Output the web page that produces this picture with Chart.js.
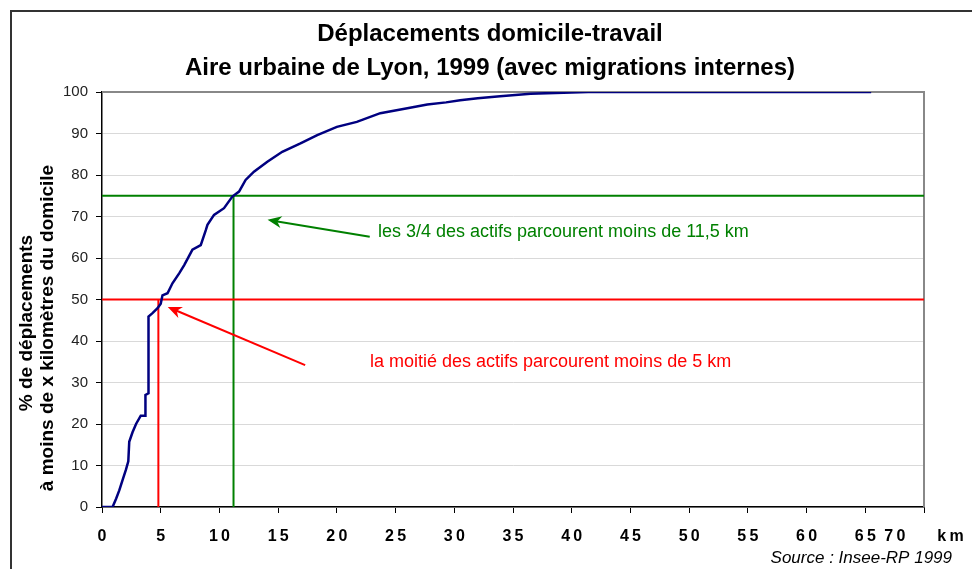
<!DOCTYPE html>
<html lang="fr">
<head>
  <meta charset="UTF-8">
  <title>Déplacements domicile-travail - Lyon 1999</title>
  <style>
    html, body {
      margin: 0;
      padding: 0;
      background: #ffffff;
      overflow: hidden;
    }
    .wrap {
      position: relative;
      width: 972px;
      height: 569px;
    }
  </style>
</head>
<body>
  <div class="wrap">
    <canvas id="cumChart" width="972" height="569"></canvas>
  </div>

  <script src="https://cdn.jsdelivr.net/npm/chart.js"></script>
  <script>
    // Cumulative share of trips (%) by distance from home (km)
    const distKm = [0, 0.9, 1.2, 1.47, 1.75, 2.04, 2.24, 2.32, 2.6, 2.9, 3.3, 3.7, 3.7, 3.96, 3.96,
      4.3, 4.73, 5.0, 5.15, 5.58, 6.0, 6.57, 7.0, 7.42, 7.7, 8.41, 8.84, 8.98, 9.54, 10.39, 11.1,
      11.67, 12.23, 12.94, 14.08, 15.35, 16.9, 18.33, 20.0, 21.7, 23.7, 26.0, 27.7, 29.3, 30.5,
      32.0, 33.9, 36.5, 41.4, 65.5];
    const pctCum = [0, 0, 2, 4, 6.5, 9, 11, 15.7, 18, 20, 22, 22, 27, 27.4, 45.9,
      46.7, 47.9, 49, 51, 51.5, 53.9, 56.3, 58.3, 60.5, 62, 63.1, 66.7, 68, 70.4, 72, 74.8,
      76, 78.8, 80.8, 83.2, 85.6, 87.6, 89.6, 91.6, 92.8, 94.9, 96.1, 97.0, 97.5, 98.0,
      98.5, 99.0, 99.6, 100, 100];

    // reference lines: median and 3rd quartile
    const medianKm = 4.8, medianPct = 50;
    const q3Km = 11.2, q3Pct = 75;
    const xMax = 70;

    const titleLines = ['Déplacements domicile-travail', 'Aire urbaine de Lyon, 1999 (avec migrations internes)'];
    const yTitleLines = ['% de déplacements', 'à moins de x kilomètres du domicile'];
    const sourceText = 'Source : Insee-RP 1999';
    const noteQ3 = 'les 3/4 des actifs parcourent moins de 11,5 km';
    const noteMedian = 'la moitié des actifs parcourent moins de 5 km';

    // arrows: [fromKm, fromPct, toKm, toPct]
    const arrowQ3 = [22.8, 65.1, 14.1, 69.2];
    const arrowMedian = [17.3, 34.2, 5.6, 48.2];

    const RED = '#ff0000';
    const GREEN = '#008000';
    const NAVY = '#000080';
    const FONT = '"Liberation Sans", Arial, sans-serif';

    function pts(xs, ys) {
      return xs.map((x, i) => ({ x: x, y: ys[i] }));
    }

    function arrow(ctx, chart, a, color) {
      const sx = chart.scales.x, sy = chart.scales.y;
      const x1 = sx.getPixelForValue(a[0]), y1 = sy.getPixelForValue(a[1]);
      const x2 = sx.getPixelForValue(a[2]), y2 = sy.getPixelForValue(a[3]);
      const ang = Math.atan2(y2 - y1, x2 - x1);
      const head = 14, wing = 6;
      ctx.save();
      ctx.strokeStyle = color;
      ctx.fillStyle = color;
      ctx.lineWidth = 2;
      ctx.beginPath();
      ctx.moveTo(x1, y1);
      ctx.lineTo(x2 - Math.cos(ang) * head * 0.6, y2 - Math.sin(ang) * head * 0.6);
      ctx.stroke();
      ctx.beginPath();
      ctx.moveTo(x2, y2);
      ctx.lineTo(x2 - Math.cos(ang) * head + Math.sin(ang) * wing, y2 - Math.sin(ang) * head - Math.cos(ang) * wing);
      ctx.lineTo(x2 - Math.cos(ang) * head * 0.7, y2 - Math.sin(ang) * head * 0.7);
      ctx.lineTo(x2 - Math.cos(ang) * head - Math.sin(ang) * wing, y2 - Math.sin(ang) * head + Math.cos(ang) * wing);
      ctx.closePath();
      ctx.fill();
      ctx.restore();
    }

    const decor = {
      id: 'decor',
      beforeDraw(chart) {
        const ctx = chart.ctx;
        ctx.save();
        ctx.fillStyle = '#ffffff';
        ctx.fillRect(0, 0, chart.width, chart.height);
        // outer frame
        ctx.strokeStyle = '#333333';
        ctx.lineWidth = 2;
        ctx.strokeRect(11, 11, chart.width + 20, chart.height + 20);
        ctx.restore();
      },
      beforeDatasetsDraw(chart) {
        const ctx = chart.ctx, a = chart.chartArea;
        ctx.save();
        ctx.strokeStyle = '#888888';
        ctx.lineWidth = 2;
        ctx.beginPath();
        ctx.moveTo(a.left, a.top);
        ctx.lineTo(a.right, a.top);
        ctx.lineTo(a.right, a.bottom);
        ctx.stroke();
        ctx.restore();
      },
      afterDraw(chart) {
        const ctx = chart.ctx;
        ctx.save();
        ctx.fillStyle = '#000000';
        ctx.textAlign = 'center';
        ctx.textBaseline = 'middle';
        ctx.font = 'bold 24px ' + FONT;
        ctx.fillText(titleLines[0], 490, 34);
        ctx.fillText(titleLines[1], 490, 68);

        // y axis title, two rotated lines
        ctx.font = 'bold 19px ' + FONT;
        ctx.save();
        ctx.translate(27, 323);
        ctx.rotate(-Math.PI / 2);
        ctx.fillText(yTitleLines[0], 0, 0);
        ctx.restore();
        ctx.save();
        ctx.translate(48, 328);
        ctx.rotate(-Math.PI / 2);
        ctx.fillText(yTitleLines[1], 0, 0);
        ctx.restore();

        // notes
        ctx.font = '18px ' + FONT;
        ctx.textAlign = 'left';
        ctx.fillStyle = GREEN;
        ctx.fillText(noteQ3, 378, 232);
        ctx.fillStyle = RED;
        ctx.fillText(noteMedian, 370, 362);

        // source
        ctx.fillStyle = '#000000';
        ctx.textAlign = 'right';
        ctx.font = 'italic 17px ' + FONT;
        ctx.fillText(sourceText, 952, 558);
        ctx.restore();

        arrow(ctx, chart, arrowQ3, GREEN);
        arrow(ctx, chart, arrowMedian, RED);
      }
    };

    new Chart(document.getElementById('cumChart'), {
      type: 'line',
      data: {
        datasets: [
          {
            label: 'cumul',
            data: pts(distKm, pctCum),
            borderColor: NAVY,
            borderWidth: 2.5,
            pointRadius: 0,
            tension: 0,
            order: 0
          },
          {
            label: 'mediane h',
            data: pts([0, xMax], [medianPct, medianPct]),
            borderColor: RED,
            borderWidth: 2,
            pointRadius: 0,
            order: 1
          },
          {
            label: 'mediane v',
            data: pts([medianKm, medianKm], [0, medianPct]),
            borderColor: RED,
            borderWidth: 2,
            pointRadius: 0,
            order: 1
          },
          {
            label: 'q3 h',
            data: pts([0, xMax], [q3Pct, q3Pct]),
            borderColor: GREEN,
            borderWidth: 2,
            pointRadius: 0,
            order: 1
          },
          {
            label: 'q3 v',
            data: pts([q3Km, q3Km], [0, q3Pct]),
            borderColor: GREEN,
            borderWidth: 2,
            pointRadius: 0,
            order: 1
          }
        ]
      },
      options: {
        responsive: false,
        animation: false,
        events: [],
        layout: {
          padding: { left: 0, top: 92, right: 48, bottom: 0 }
        },
        plugins: {
          legend: { display: false },
          tooltip: { enabled: false }
        },
        scales: {
          x: {
            type: 'linear',
            min: 0,
            max: xMax,
            afterFit(scale) {
              scale.height = 62;
              scale.paddingLeft = 0;
              scale.paddingRight = 0;
            },
            border: { color: '#000000', width: 1.5 },
            grid: {
              drawOnChartArea: false,
              drawTicks: true,
              tickLength: 6,
              tickColor: '#000000'
            },
            ticks: {
              stepSize: 5,
              autoSkip: false,
              maxRotation: 0,
              color: '#000000',
              padding: 14,
              font: { family: FONT, size: 16, weight: 'bold' },
              callback(v) {
                const s = String(v).split('').join('\u2009');
                return v === xMax ? s + '\u2003\u2003k\u2009m' : s;
              }
            }
          },
          y: {
            min: 0,
            max: 100,
            afterFit(scale) {
              scale.width = 102;
              scale.paddingTop = 0;
              scale.paddingBottom = 0;
            },
            border: { color: '#000000', width: 1.5 },
            grid: {
              color: '#d9d9d9',
              lineWidth: 1,
              drawTicks: true,
              tickLength: 6,
              tickColor: '#000000'
            },
            ticks: {
              stepSize: 10,
              color: '#222222',
              padding: 8,
              font: { family: FONT, size: 15 }
            }
          }
        }
      },
      plugins: [decor]
    });
  </script>
</body>
</html>
